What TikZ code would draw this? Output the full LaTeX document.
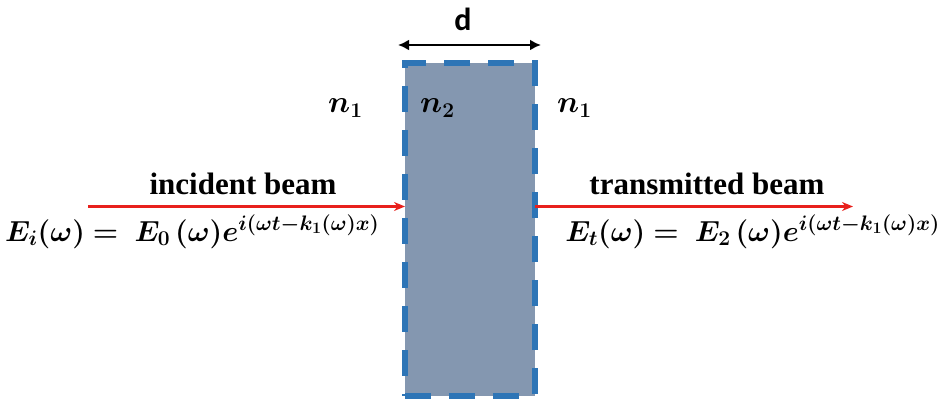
\RequirePackage{fix-cm}
\documentclass[tikz,border=0pt]{standalone}
\usepackage{fontspec}
\setmainfont{Liberation Serif}
\newfontfamily\dfont{Carlito}
\usepackage{bm}
\DeclareMathSizes{29}{29}{21}{16}
\DeclareMathSizes{31}{31}{21}{16}
\usetikzlibrary{arrows.meta}
\definecolor{slabfill}{HTML}{8497B0}
\definecolor{slabedge}{HTML}{2E75B6}
\definecolor{beamred}{HTML}{E8201C}
\tikzset{
  x=1pt, y=-1pt,
  slabbox/.style={draw=slabedge, fill=slabfill, line width=5.5pt,
    dash pattern=on 26pt off 18pt, minimum width=130pt, minimum height=333pt,
    inner sep=0pt, outer sep=0pt},
  beam/.style={draw=beamred, line width=2.2pt, -{Stealth[length=11pt,width=9pt]}},
  lbl/.style={font=\fontsize{31}{36}\selectfont\bfseries, inner sep=0pt},
  eqn/.style={font=\fontsize{29}{34}\selectfont, inner sep=0pt},
  nlbl/.style={font=\fontsize{31}{36}\selectfont, inner sep=0pt, anchor=base west},
}
\begin{document}
\begin{tikzpicture}
\useasboundingbox (0,0) rectangle (943,401);
\node[slabbox] (slab) at (470,229.5) {};
% width arrow
\coordinate (dl) at (398,45);
\coordinate (dr) at (541,45);
\draw[line width=2.6pt, {Latex[length=11pt,width=11pt]}-{Latex[length=11pt,width=11pt]}] (dl) -- (dr);
\node[font=\fontsize{32}{36}\selectfont\dfont\bfseries, inner sep=0pt] (d) at (463,19) {d};
% refractive indices
\node[nlbl] (n1l) at (328,113) {$\bm{n_1}$};
\node[nlbl] (n2) at (420,113) {$\bm{n_2}$};
\node[nlbl] (n1r) at (557,113) {$\bm{n_1}$};
% beams
\coordinate (istart) at (88,206.5);
\coordinate (tend) at (853,206.5);
\draw[beam] (istart) -- (istart -| slab.west);
\draw[beam] (slab.east |- tend) -- (tend);
\node[lbl] (ilbl) at (243,184) {incident beam};
\node[lbl] (tlbl) at (707,184) {transmitted beam};
\node[eqn, anchor=base west] (ieq) at (5,241) {$\bm{E_i(\omega) =\; E_0\,(\omega) e^{i(\omega t-k_1(\omega)x)}}$};
\node[eqn, anchor=base east] (teq) at (940,241) {$\bm{E_t(\omega) =\; E_2\,(\omega) e^{i(\omega t-k_1(\omega)x)}}$};
\end{tikzpicture}
\end{document}
